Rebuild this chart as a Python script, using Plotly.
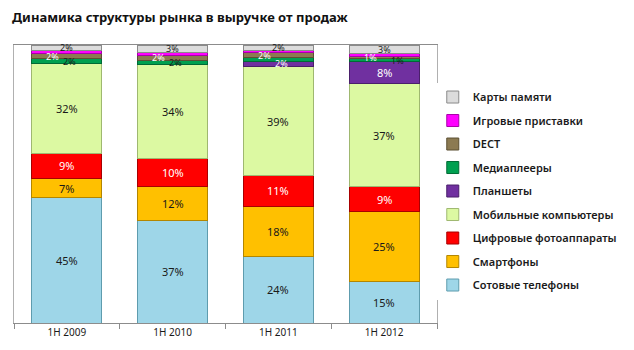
import plotly.graph_objects as go

# Periods (half-years)
periods = ["1H 2009", "1H 2010", "1H 2011", "1H 2012"]

# Share of revenue by product category, % (bottom to top of each stack)
cell_phones = [45.0, 37.0, 24.0, 15.0]
smartphones = [7.0, 12.0, 18.0, 25.0]
cameras = [9.0, 10.0, 11.0, 9.0]
mobile_pcs = [32.4, 34.0, 39.2, 37.0]
tablets = [0.0, 0.0, 2.0, 8.0]
media_players = [1.6, 1.6, 1.2, 1.0]
dect = [2.0, 1.6, 1.8, 1.0]
game_consoles = [1.0, 1.0, 1.0, 1.0]
memory_cards = [2.0, 2.8, 1.8, 3.0]

series_names = [
    "Сотовые телефоны", "Смартфоны", "Цифровые фотоаппараты",
    "Мобильные компьютеры", "Планшеты", "Медиаплееры", "DECT",
    "Игровые приставки", "Карты памяти",
]
series_values = [
    cell_phones, smartphones, cameras, mobile_pcs, tablets,
    media_players, dect, game_consoles, memory_cards,
]
series_colors = [
    "#9ED6E8", "#FFC000", "#FF0000", "#DCF9A2", "#7030A0",
    "#00A050", "#8C7A52", "#FF00FF", "#DCDCDC",
]
edge_colors = [
    "#5E9CAE", "#B38600", "#A80000", "#9FB870", "#4A1F6B",
    "#006B35", "#5C4F33", "#A800A8", "#8A8A8A",
]
label_colors = [
    "#1A1A1A", "#1A1A1A", "#FFFFFF", "#1A1A1A", "#FFFFFF",
    "#1A1A1A", "#FFFFFF", "#FFFFFF", "#1A1A1A",
]
# which segments carry a value label, per series and period
show_label = [
    [True, True, True, True],
    [True, True, True, True],
    [True, True, True, True],
    [True, True, True, True],
    [False, False, True, True],
    [True, True, False, True],
    [True, True, True, True],
    [False, False, False, False],
    [True, True, True, True],
]
# horizontal nudges (px) for crowded small-segment labels
label_shift = [0, 0, 0, 0, 3, 3, -14, 0, 0]
# extra nudge where three thin segments sit on top of each other
label_shift_override = {(5, 3): 13}

fig = go.Figure()
n = len(series_names)
for i, (name, vals, col, edge) in enumerate(
        zip(series_names, series_values, series_colors, edge_colors)):
    fig.add_trace(go.Bar(
        name=name, x=periods, y=vals,
        marker=dict(color=col, line=dict(color=edge, width=1)),
        legendgroup=name, legendrank=n - i,
        hoverinfo="skip",
    ))

# value labels at the middle of each segment
for i, vals in enumerate(series_values):
    for j, p in enumerate(periods):
        if not show_label[i][j]:
            continue
        base = sum(series_values[k][j] for k in range(i))
        mid = base + vals[j] / 2
        small = vals[j] < 5
        shift = label_shift_override.get((i, j), label_shift[i]) if small else 0
        fig.add_annotation(
            x=p, y=mid, text=f"{vals[j]:.0f}%", showarrow=False,
            xshift=shift, borderpad=0,
            font=dict(family="Noto Sans", size=9 if small else 11,
                      color=label_colors[i]),
        )

fig.update_layout(
    width=634, height=350,
    margin=dict(l=14, r=192, t=45, b=27),
    paper_bgcolor="white", plot_bgcolor="white",
    barmode="stack", bargap=0.34,
    title=dict(text="<b>Динамика структуры рынка в выручке от продаж</b>",
               x=0.019, xanchor="left", y=0.95, yanchor="middle",
               font=dict(family="Noto Sans", size=13, color="#111111")),
    legend=dict(
        x=0.99, xanchor="left", y=0.865, yanchor="top",
        traceorder="grouped", tracegroupgap=4.5,
        font=dict(family="Noto Sans", size=11, color="#1A1A1A", weight=600),
        itemwidth=30,
    ),
    showlegend=True,
)
fig.update_xaxes(
    showline=True, linecolor="#8C8C8C", linewidth=1, mirror=True,
    ticks="outside", tickson="boundaries", ticklen=5, tickcolor="#8C8C8C",
    tickfont=dict(family="Noto Sans", size=10, color="#1A1A1A"),
    showgrid=False,
)
fig.update_yaxes(
    range=[0, 100], showticklabels=False, showgrid=False, zeroline=False,
    showline=True, linecolor="#B0B0B0", linewidth=1, mirror=True,
)

fig.write_html("out.html")
